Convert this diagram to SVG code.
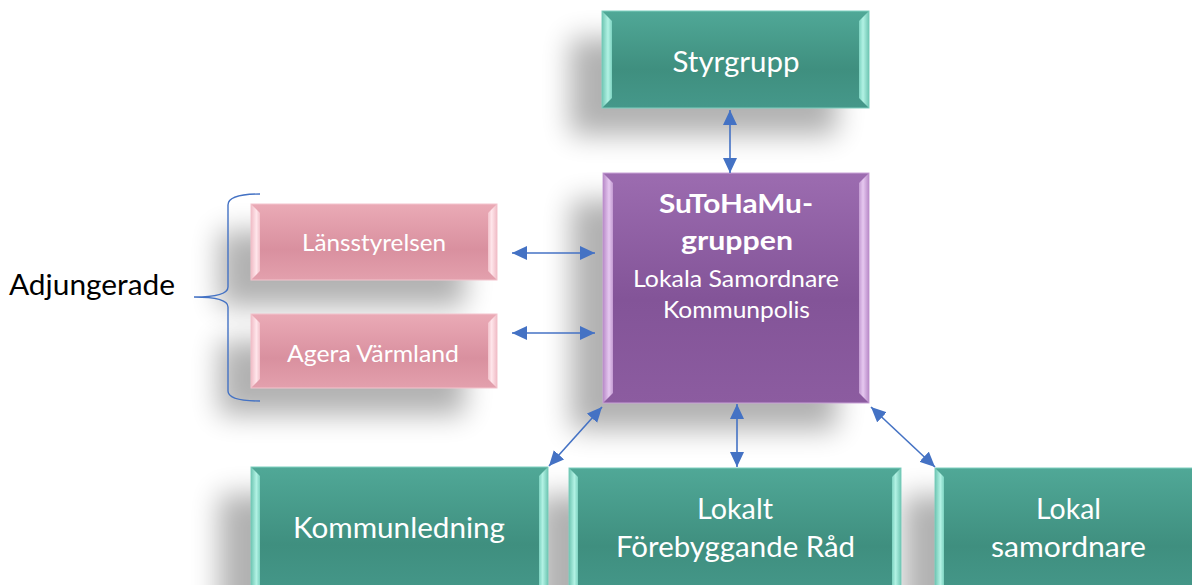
<svg xmlns="http://www.w3.org/2000/svg" width="1192" height="585" viewBox="0 0 1192 585">
<style>
  .lbl { font-family: Lato, "Liberation Sans", sans-serif; fill: #ffffff; text-anchor: middle; }
  .b { font-weight: bold; }
  .dark { font-family: Lato, "Liberation Sans", sans-serif; fill: #000000; }
  .conn { stroke: #4472c4; stroke-width: 1.6; fill: none; marker-start: url(#ah); marker-end: url(#ah); }
  .brace { stroke: #4472c4; stroke-width: 1.4; fill: none; }
  .shadow { fill: #000; opacity: 0.3; filter: url(#blur); }
</style>
<defs>
  <filter id="blur" x="-40%" y="-50%" width="180%" height="200%">
    <feGaussianBlur stdDeviation="14"/>
  </filter>
  <marker id="ah" markerUnits="userSpaceOnUse" markerWidth="16" markerHeight="16" refX="15" refY="7" orient="auto-start-reverse">
    <path d="M0,0 L15,7 L0,14 z" fill="#4472c4"/>
  </marker>
  <linearGradient id="teal" x1="0" y1="0" x2="0" y2="1">
    <stop offset="0" stop-color="#50a897"/>
    <stop offset="0.6" stop-color="#3f8f7f"/>
    <stop offset="1" stop-color="#45988a"/>
  </linearGradient>
  <linearGradient id="purple" x1="0" y1="0" x2="0" y2="1">
    <stop offset="0" stop-color="#9c6cb0"/>
    <stop offset="0.55" stop-color="#835498"/>
    <stop offset="1" stop-color="#8c5ca0"/>
  </linearGradient>
  <linearGradient id="pink" x1="0" y1="0" x2="0" y2="1">
    <stop offset="0" stop-color="#eaaab6"/>
    <stop offset="0.6" stop-color="#d9909f"/>
    <stop offset="1" stop-color="#e3a0ad"/>
  </linearGradient>
  <linearGradient id="bevT" x1="0" y1="0" x2="1" y2="0">
    <stop offset="0" stop-color="#6fc6b3"/>
    <stop offset="0.6" stop-color="#b2f2e4"/>
    <stop offset="1" stop-color="#7dd3c1"/>
  </linearGradient>
  <linearGradient id="bevTr" x1="1" y1="0" x2="0" y2="0">
    <stop offset="0" stop-color="#6fc6b3"/>
    <stop offset="0.6" stop-color="#b2f2e4"/>
    <stop offset="1" stop-color="#7dd3c1"/>
  </linearGradient>
  <linearGradient id="bevP" x1="0" y1="0" x2="1" y2="0">
    <stop offset="0" stop-color="#b88ac8"/>
    <stop offset="0.6" stop-color="#e6c8f0"/>
    <stop offset="1" stop-color="#c39bd2"/>
  </linearGradient>
  <linearGradient id="bevPr" x1="1" y1="0" x2="0" y2="0">
    <stop offset="0" stop-color="#b88ac8"/>
    <stop offset="0.6" stop-color="#e6c8f0"/>
    <stop offset="1" stop-color="#c39bd2"/>
  </linearGradient>
  <linearGradient id="bevK" x1="0" y1="0" x2="1" y2="0">
    <stop offset="0" stop-color="#f0bcc6"/>
    <stop offset="0.6" stop-color="#ffe6eb"/>
    <stop offset="1" stop-color="#f2c2cb"/>
  </linearGradient>
  <linearGradient id="bevKr" x1="1" y1="0" x2="0" y2="0">
    <stop offset="0" stop-color="#f0bcc6"/>
    <stop offset="0.6" stop-color="#ffe6eb"/>
    <stop offset="1" stop-color="#f2c2cb"/>
  </linearGradient>
</defs>
<rect width="1192" height="585" fill="#ffffff"/>

<!-- shadows -->
<g id="shadows">
  <rect class="shadow" x="570" y="38" width="267" height="97"/>
  <rect class="shadow" x="571" y="200" width="266" height="230"/>
  <rect class="shadow" x="219" y="231" width="246" height="76"/>
  <rect class="shadow" x="219" y="341" width="246" height="74"/>
  <rect class="shadow" x="219" y="494" width="297" height="130"/>
  <rect class="shadow" x="537" y="495" width="332" height="130"/>
  <rect class="shadow" x="903" y="495" width="266" height="130"/>
</g>

<g id="styrgrupp">
  <rect x="602" y="11" width="267" height="97" fill="url(#teal)" stroke="#7fcfbf" stroke-width="1"/>
  <polygon points="602,11 612,21 612,98 602,108" fill="url(#bevT)"/>
  <polygon points="869,11 859,21 859,98 869,108" fill="url(#bevTr)"/>
  <text class="lbl" x="736" y="72" font-size="29.5" textLength="127" lengthAdjust="spacingAndGlyphs">Styrgrupp</text>
</g>

<g id="sutohamu">
  <rect x="603" y="173" width="266" height="230" fill="url(#purple)" stroke="#c9a3d8" stroke-width="1"/>
  <polygon points="603,173 613,183 613,393 603,403" fill="url(#bevP)"/>
  <polygon points="869,173 859,183 859,393 869,403" fill="url(#bevPr)"/>
  <text class="lbl b" x="736" y="213" font-size="26" textLength="154" lengthAdjust="spacingAndGlyphs">SuToHaMu-</text>
  <text class="lbl b" x="737" y="250" font-size="26" textLength="112" lengthAdjust="spacingAndGlyphs">gruppen</text>
  <text class="lbl" x="736" y="287" font-size="23" textLength="206" lengthAdjust="spacingAndGlyphs">Lokala Samordnare</text>
  <text class="lbl" x="736.5" y="318" font-size="23" textLength="147" lengthAdjust="spacingAndGlyphs">Kommunpolis</text>
</g>

<g id="lansstyrelsen">
  <rect x="251" y="204" width="246" height="76" fill="url(#pink)" stroke="#f3c4cd" stroke-width="1"/>
  <polygon points="251,204 260,213 260,271 251,280" fill="url(#bevK)"/>
  <polygon points="497,204 488,213 488,271 497,280" fill="url(#bevKr)"/>
  <text class="lbl" x="374" y="251" font-size="24" textLength="144" lengthAdjust="spacingAndGlyphs">Länsstyrelsen</text>
</g>

<g id="agera">
  <rect x="251" y="314" width="246" height="74" fill="url(#pink)" stroke="#f3c4cd" stroke-width="1"/>
  <polygon points="251,314 260,323 260,379 251,388" fill="url(#bevK)"/>
  <polygon points="497,314 488,323 488,379 497,388" fill="url(#bevKr)"/>
  <text class="lbl" x="373" y="362" font-size="24" textLength="172" lengthAdjust="spacingAndGlyphs">Agera Värmland</text>
</g>

<g id="kommunledning">
  <rect x="251" y="467" width="297" height="130" fill="url(#teal)" stroke="#7fcfbf" stroke-width="1"/>
  <polygon points="251,467 260,476 260,597 251,597" fill="url(#bevT)"/>
  <polygon points="548,467 539,476 539,597 548,597" fill="url(#bevTr)"/>
  <text class="lbl" x="399" y="538" font-size="29.5" textLength="212" lengthAdjust="spacingAndGlyphs">Kommunledning</text>
</g>

<g id="forebyggande">
  <rect x="569" y="468" width="332" height="130" fill="url(#teal)" stroke="#7fcfbf" stroke-width="1"/>
  <polygon points="569,468 578,477 578,598 569,598" fill="url(#bevT)"/>
  <polygon points="901,468 892,477 892,598 901,598" fill="url(#bevTr)"/>
  <text class="lbl" x="735" y="519" font-size="29.5" textLength="76" lengthAdjust="spacingAndGlyphs">Lokalt</text>
  <text class="lbl" x="735.5" y="557" font-size="29.5" textLength="239" lengthAdjust="spacingAndGlyphs">Förebyggande Råd</text>
</g>

<g id="samordnare">
  <rect x="935" y="468" width="266" height="130" fill="url(#teal)" stroke="#7fcfbf" stroke-width="1"/>
  <polygon points="935,468 944,477 944,598 935,598" fill="url(#bevT)"/>
  <text class="lbl" x="1068.5" y="519" font-size="29.5" textLength="65" lengthAdjust="spacingAndGlyphs">Lokal</text>
  <text class="lbl" x="1068.5" y="557" font-size="29.5" textLength="155" lengthAdjust="spacingAndGlyphs">samordnare</text>
</g>

<g id="adjungerade">
  <path class="brace" d="M260,194 Q228,194 228,205 L228,287 Q228,297 194,297 Q228,297 228,307 L228,391 Q228,401 260,401"/>
  <text class="dark" x="9" y="295" font-size="29.5" textLength="166" lengthAdjust="spacingAndGlyphs">Adjungerade</text>
</g>

<g id="connectors">
  <line class="conn" x1="730" y1="110" x2="730" y2="173"/>
  <line class="conn" x1="512" y1="253" x2="595" y2="253"/>
  <line class="conn" x1="512" y1="333" x2="595" y2="333"/>
  <line class="conn" x1="602" y1="407" x2="549" y2="466"/>
  <line class="conn" x1="737" y1="404" x2="737" y2="467"/>
  <line class="conn" x1="871" y1="407" x2="935" y2="467"/>
</g>
</svg>
